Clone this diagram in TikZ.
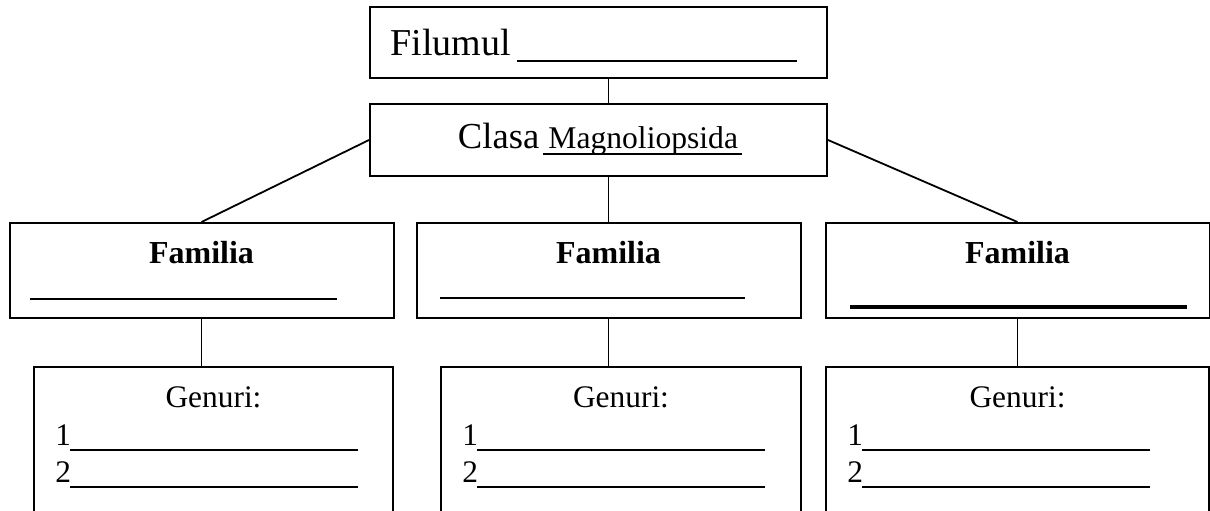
\documentclass[tikz,border=0pt]{standalone}
\usepackage{fontspec}
\setmainfont{Liberation Serif}
\usetikzlibrary{positioning}
\tikzset{
    %Define style for boxes
    levelbox/.style={
             rectangle,
             draw=black, line width=1pt,
             inner sep=0pt},
    % Define connector style
    treelink/.style={
            line width=0.9pt},
    % Define style for the blanks to fill in
    blankline/.style={
            line width=0.6pt},
    % Define text styles
    bigtext/.style={
            inner sep=0pt,
            font=\fontsize{19}{22}\selectfont},
    famtext/.style={
            inner sep=0pt,
            font=\fontsize{16}{19}\selectfont\bfseries},
    gentext/.style={
            inner sep=0pt,
            font=\fontsize{15.7}{18}\selectfont}
}

\begin{document}
\begin{tikzpicture}[x=0.5pt, y=-0.5pt]
 \path[use as bounding box, clip] (0,0) rectangle (1210,510);
 % phylum and class
 \node[levelbox, minimum width=228.5pt, minimum height=35.5pt] (phylum) at (598.5,42.5) {};
 \node[levelbox, minimum width=228.5pt, minimum height=36pt] (class) at (598.5,140) {};
 \node[bigtext, anchor=base west] (phylumtxt) at (390,55) {Filumul};
 \draw[blankline] (517,61) -- (797,61);
 \node[bigtext, anchor=base] (classtxt) at (598,148)
      {\fontsize{18.3}{21}\selectfont Clasa \fontsize{15.8}{18}\selectfont Magnoliopsida};
 \draw[line width=1pt] (543,153.5) -- (742,153.5);
 % families
 \foreach \f/\cx/\a/\b/\y/\w in {famA/201.5/30/337/299/0.6pt,
                                 famB/608.5/440/745/298/0.6pt,
                                 famC/1017.5/850/1187/307/1.8pt} {
   \node[levelbox, minimum width=192pt, minimum height=47.5pt] (\f) at (\cx,270.5) {};
   \node[famtext, anchor=base] (\f txt) at ([yshift=-20.5pt]\f.north) {Familia};
   \draw[blankline, line width=\w] (\a,\y) -- (\b,\y);
 }
 % genera
 \foreach \g/\cx/\gx/\gw in {genA/213.5/34/179.5pt, genB/621/441/180pt, genC/1017.5/826/191.5pt} {
   \node[levelbox, minimum width=\gw, minimum height=73.5pt] (\g) at (\cx,440.5) {};
   \node[gentext, anchor=base] (\g txt) at ([yshift=-20.5pt]\g.north) {Genuri:};
   \node[gentext, anchor=base west] (\g one) at (\gx+21,445) {1};
   \node[gentext, anchor=base west] (\g two) at (\gx+21,482) {2};
   \draw[blankline] (\gx+36,450) -- (\gx+324,450);
   \draw[blankline] (\gx+36,487) -- (\gx+324,487);
 }
 % connectors
 \draw[treelink] (phylum.south -| famB.north) -- (class.north -| famB.north);
 \draw[treelink] (class.west) -- (famA.north);
 \draw[treelink] (class.south -| famB.north) -- (famB.north);
 \draw[treelink] (class.east) -- (famC.north);
 \foreach \f/\g in {famA/genA, famB/genB, famC/genC}
   \draw[treelink] (\f.south) -- (\f.south |- \g.north);
\end{tikzpicture}
\end{document}
